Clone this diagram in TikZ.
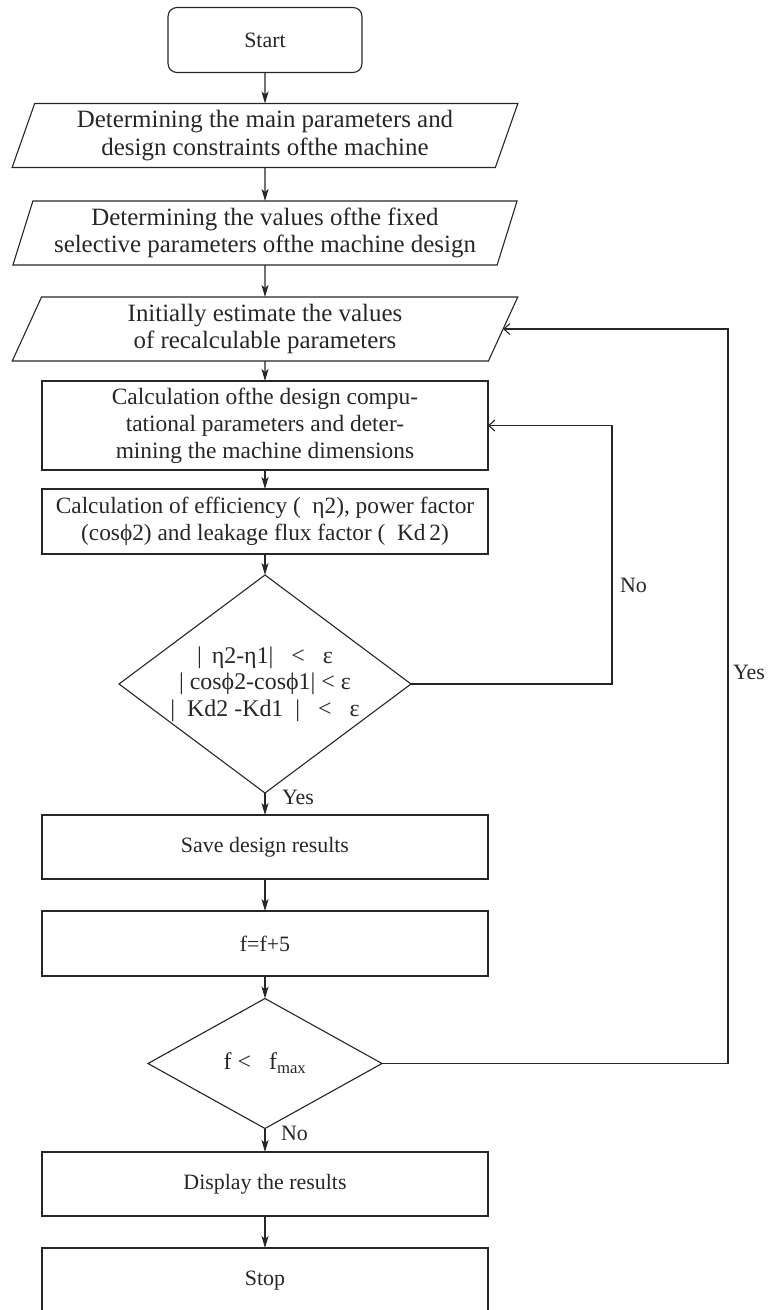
\documentclass[tikz,border=0pt]{standalone}
\usepackage{fontspec}
\setmainfont{Liberation Serif}
\usetikzlibrary{shapes.geometric,arrows.meta}

\begin{document}
\begin{tikzpicture}[
        x=1bp, y=-1bp, color=black!85, line width=1.1bp,
        font=\fontsize{22}{27}\selectfont,
        every node/.style={inner sep=0pt, outer sep=0pt},
        startbox/.style={draw, rounded corners=9bp, minimum width=194bp, minimum height=65bp},
        io/.style={draw, trapezium, trapezium left angle=70, trapezium right angle=110,
                   trapezium stretches=true, align=center, minimum width=506bp, minimum height=64bp,
                   font=\fontsize{25}{27}\selectfont},
        box/.style={draw, align=center, minimum width=446bp, minimum height=65bp},
        decide/.style={draw, diamond, align=center, font=\fontsize{24}{26.5}\selectfont},
        flow/.style={-{Stealth[length=12bp, width=7bp, inset=3bp]}},
        back/.style={-{Straight Barb[length=6bp, width=11bp]}}
    ]
        \useasboundingbox (0,0) rectangle (767,1310);
        \node[startbox] (start) at (265,40) {Start};
        \node[io, font=\fontsize{25}{28}\selectfont] (mainpar) at (265,135.5) {Determining the main parameters and\\design constraints ofthe machine};
        \node[io] (fixpar) at (265,233) {Determining the values ofthe fixed\\selective parameters ofthe machine design};
        \node[io] (estim) at (265,329) {Initially estimate the values\\of recalculable parameters};
        \node[box, minimum height=89bp, font=\fontsize{23.5}{27}\selectfont] (calc) at (265,425.5) {Calculation ofthe design compu-\\tational parameters and deter-\\mining the machine dimensions};
        \node[box, font=\fontsize{23.4}{27}\selectfont] (effic) at (265,521.5) {Calculation of efficiency (~~η2), power factor\\(cosϕ2) and leakage flux factor (~~Kd\,2)};
        \node[decide, minimum width=292bp, minimum height=218bp, aspect=1.34] (conv) at (265,684) {|\,~η2-η1|~~~<~~~ε\\|~cosϕ2-cosϕ1|~<~ε\\|~~Kd2~-Kd1~~|~~~<~~~ε};
        \node[box, minimum height=64bp] (save) at (265,847) {Save design results};
        \node[box] (incr) at (265,943.5) {f=f+5};
        \node[decide, minimum width=234bp, minimum height=130bp, aspect=1.8] (fcheck) at (265,1063.5) {f <~~~f\textsubscript{max}};
        \node[box, minimum height=64bp] (disp) at (265,1184) {Display the results};
        \node[box] (stop) at (265,1280.5) {Stop};
        \draw[flow] (start) -- (mainpar);
        \draw[flow] (mainpar) -- (fixpar);
        \draw[flow] (fixpar) -- (estim);
        \draw[flow] (estim) -- (calc);
        \draw[flow] (calc) -- (effic);
        \draw[flow] (effic) -- (conv);
        \draw[flow] (conv) -- node[pos=0.2, right=17bp] {Yes} (save);
        \draw[flow] (save) -- (incr);
        \draw[flow] (incr) -- (fcheck);
        \draw[flow] (fcheck) -- node[pos=0.2, right=16bp] {No} (disp);
        \draw[flow] (disp) -- (stop);
        \draw[back] (conv.east) -- (612,684) |- node[pos=0.19, right=8bp] {No} (calc.east);
        \draw[back] (fcheck.east) -- (728,1063.5) |- node[pos=0.266, right=5bp] {Yes} (estim.east);
    \end{tikzpicture}
\end{document}
